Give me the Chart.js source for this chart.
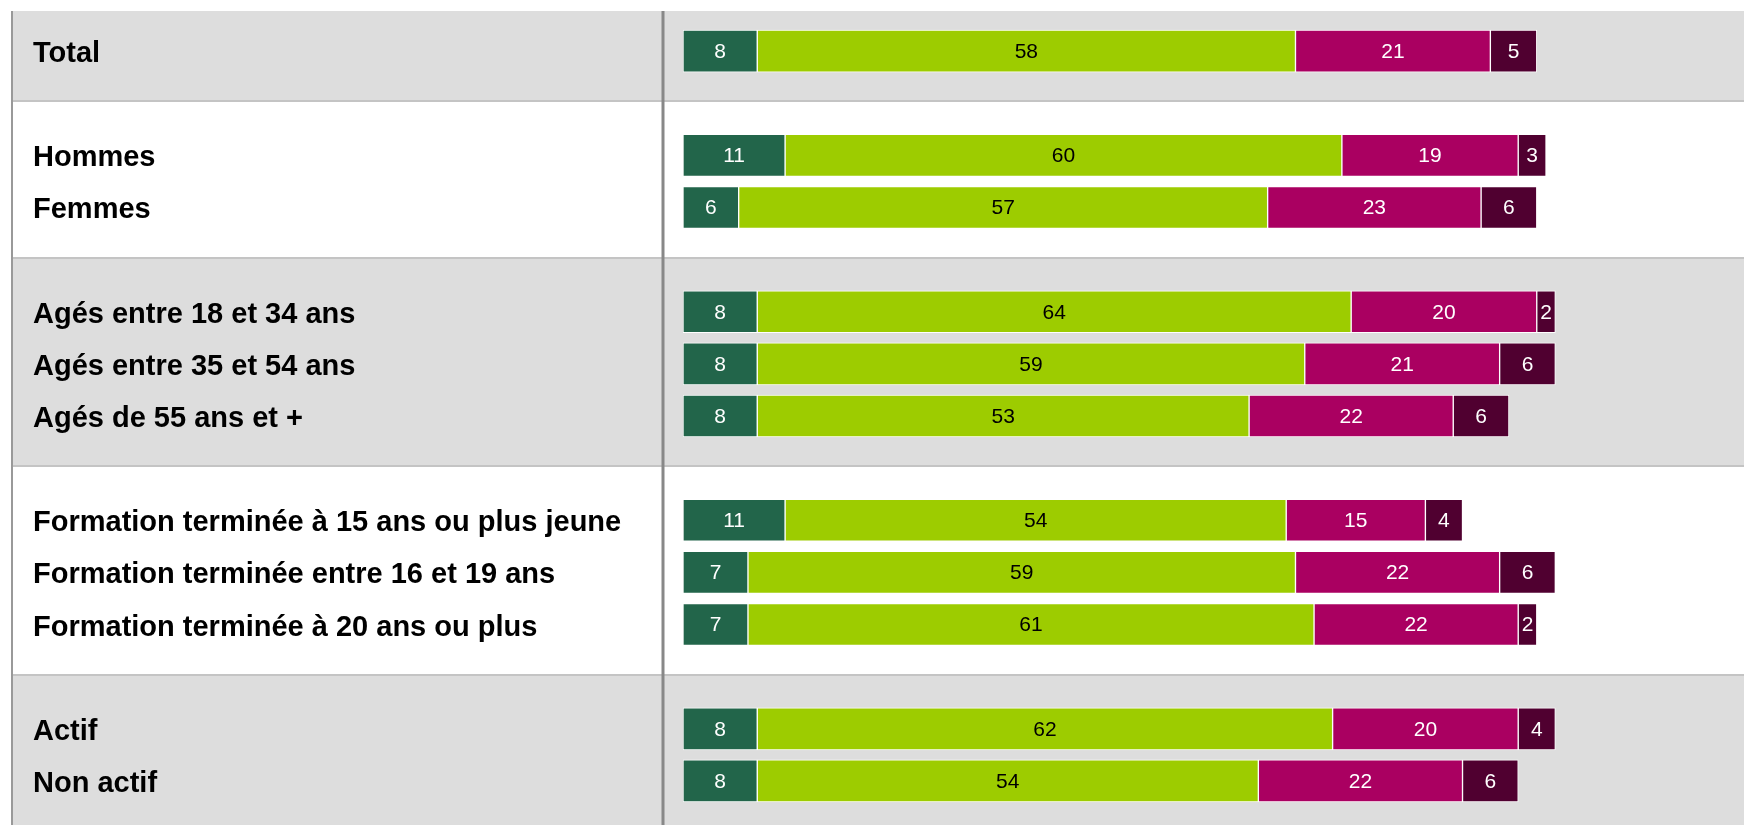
<!DOCTYPE html>
<html lang="fr">
<head>
<meta charset="utf-8">
<title>Résultats par catégorie</title>
<script src="https://cdn.jsdelivr.net/npm/chart.js@4/dist/chart.umd.min.js"></script>
<style>
	html, body { margin: 0; padding: 0; background: #fff; overflow: hidden; }
	.chart { position: relative; width: 1744px; height: 825px; }
</style>
</head>
<body>
<div class="chart"><canvas id="chart"></canvas></div>
<script>

// blank labels are the gaps between groups
const categories = [
	'Total',
	'',
	'Hommes',
	'Femmes',
	'',
	'Agés entre 18 et 34 ans',
	'Agés entre 35 et 54 ans',
	'Agés de 55 ans et +',
	'',
	'Formation terminée à 15 ans ou plus jeune',
	'Formation terminée entre 16 et 19 ans',
	'Formation terminée à 20 ans ou plus',
	'',
	'Actif',
	'Non actif'
];

const seriesNames = ['Tout à fait', 'Plutôt', 'Plutôt pas', 'Pas du tout'];

const serie1 = [8, null, 11, 6, null, 8, 8, 8, null, 11, 7, 7, null, 8, 8];
const serie2 = [58, null, 60, 57, null, 64, 59, 53, null, 54, 59, 61, null, 62, 54];
const serie3 = [21, null, 19, 23, null, 20, 21, 22, null, 15, 22, 22, null, 20, 22];
const serie4 = [5, null, 3, 6, null, 2, 6, 6, null, 4, 6, 2, null, 4, 6];

const colors = ['#22654a', '#9dcc00', '#aa0061', '#500030'];
const labelColors = ['#ffffff', '#000000', '#ffffff', '#ffffff'];
const fontFamily = "'Liberation Sans', Arial, sans-serif";


const bands = {
	id: 'bands',
	beforeDraw(chart) {
		const ctx = chart.ctx;
		const area = chart.chartArea;
		const yScale = chart.scales.y;
		const top = area.top - 14;
		const edges = [top];

		categories.forEach(function(label, i) {
			if(label === '') {
				edges.push(Math.round(yScale.getPixelForValue(i)) - 2);
			}
		});
		edges.push(chart.height);

		ctx.save();
		ctx.fillStyle = '#ffffff';
		ctx.fillRect(0, 0, chart.width, chart.height);

		for(let i = 0; i < edges.length - 1; i++) {
			ctx.fillStyle = i % 2 === 0 ? '#dddddd' : '#ffffff';
			ctx.fillRect(12, edges[i], chart.width - 12, edges[i + 1] - edges[i]);
		}

		ctx.strokeStyle = '#c4c4c4';
		ctx.lineWidth = 2;
		for(let i = 1; i < edges.length - 1; i++) {
			ctx.beginPath();
			ctx.moveTo(12, edges[i]);
			ctx.lineTo(chart.width, edges[i]);
			ctx.stroke();
		}

		ctx.strokeStyle = '#999999';
		ctx.lineWidth = 2;
		ctx.beginPath();
		ctx.moveTo(12, top);
		ctx.lineTo(12, chart.height);
		ctx.stroke();

		ctx.strokeStyle = '#888888';
		ctx.lineWidth = 3;
		ctx.beginPath();
		ctx.moveTo(area.left - 20, top);
		ctx.lineTo(area.left - 20, chart.height);
		ctx.stroke();
		ctx.restore();
	}
};


const valueLabels = {
	id: 'valueLabels',
	afterDatasetsDraw(chart) {
		const ctx = chart.ctx;

		ctx.save();
		ctx.font = '21px ' + fontFamily;
		ctx.textAlign = 'center';
		ctx.textBaseline = 'middle';

		chart.data.datasets.forEach(function(dset, di) {
			const meta = chart.getDatasetMeta(di);
			ctx.fillStyle = labelColors[di];

			meta.data.forEach(function(bar, i) {
				const value = dset.data[i];
				if(value === null || value === undefined) {
					return;
				}
				ctx.fillText(String(value), (bar.x + bar.base) / 2, bar.y + 1);
			});
		});
		ctx.restore();
	}
};


const series = [serie1, serie2, serie3, serie4];
const dsets = series.map(function(data, i) {
	return {
		label: seriesNames[i],
		data: data,
		backgroundColor: colors[i],
		borderColor: '#ffffff',
		borderWidth: 1,
		borderSkipped: false,
		barThickness: 42
	};
});


new Chart(document.getElementById('chart').getContext('2d'), {
	type: 'bar',
	data: {
		labels: categories,
		datasets: dsets
	},
	options: {
		indexAxis: 'y',
		responsive: true,
		maintainAspectRatio: false,
		animation: false,
		layout: {
			padding: {left: 33, top: 25, bottom: 18, right: 133}
		},
		plugins: {
			legend: {display: false},
			tooltip: {enabled: false}
		},
		scales: {
			x: {
				display: false,
				stacked: true,
				min: 0,
				max: 100
			},
			y: {
				stacked: true,
				grid: {display: false},
				border: {display: false},
				afterFit(scale) {
					scale.width = 650;
				},
				ticks: {
					crossAlign: 'far',
					padding: 0,
					labelOffset: 3,
					color: '#000000',
					autoSkip: false,
					font: {family: fontFamily, size: 29, weight: 'bold'}
				}
			}
		}
	},
	plugins: [bands, valueLabels]
});

</script>
</body>
</html>
